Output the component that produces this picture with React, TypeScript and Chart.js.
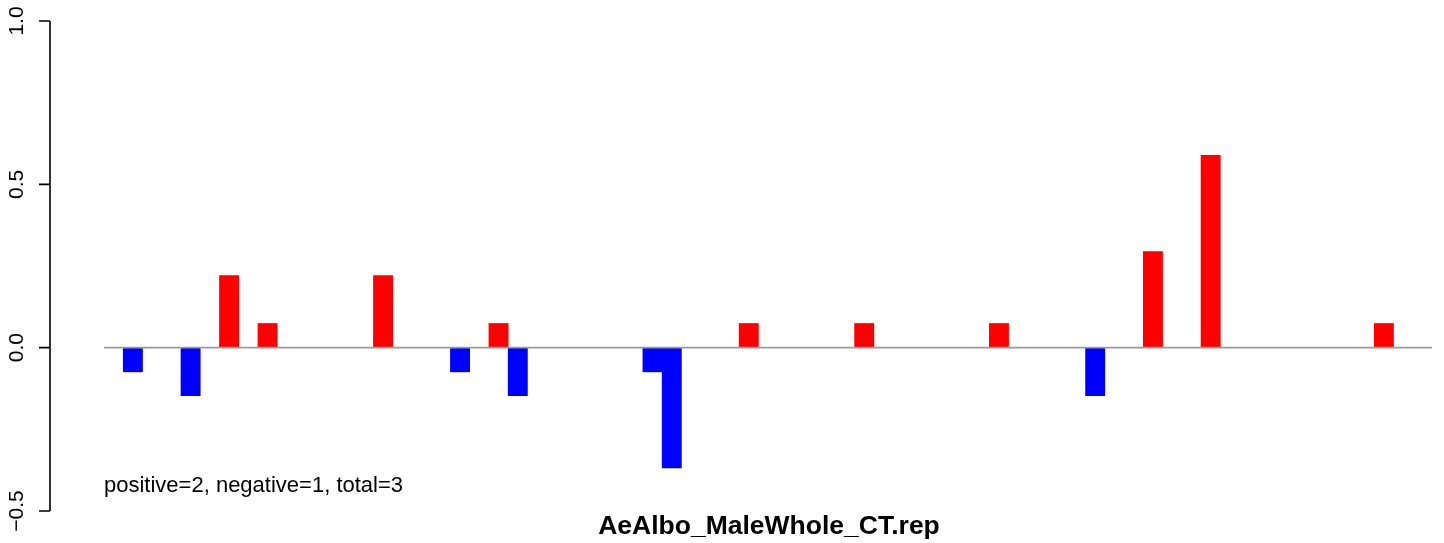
import React, { useEffect, useRef } from "react";
import { Chart, registerables } from "chart.js";

Chart.register(...registerables);

// ---- data ----
const SLOT_COUNT = 69;
const barSlots = [1, 4, 6, 8, 14, 18, 20, 21, 28, 29, 33, 39, 46, 51, 54, 57, 66];
const barValues = [
  -0.074, -0.147, 0.221, 0.074, 0.221, -0.074, 0.074, -0.147, -0.074, -0.368,
  0.074, 0.074, 0.074, -0.147, 0.294, 0.589, 0.074,
];
const yTicks = [-0.5, 0, 0.5, 1.0];
const yTickLabels = ["\u22120.5", "0.0", "0.5", "1.0"];
const titleText = "AeAlbo_MaleWhole_CT.rep";
const noteText = "positive=2, negative=1, total=3";

const FONT = "'Liberation Sans', Arial, Helvetica, sans-serif";

export default function App() {
  const ref = useRef<HTMLCanvasElement | null>(null);

  useEffect(() => {
    if (!ref.current) return;
    const labels = Array.from({ length: SLOT_COUNT }, (_, i) => String(i + 1));
    const data: (number | null)[] = new Array(SLOT_COUNT).fill(null);
    barSlots.forEach((s, i) => {
      data[s] = barValues[i];
    });

    const overlay = {
      id: "rbase",
      afterDatasetsDraw(chart: any) {
        const { ctx, chartArea } = chart;
        const y = chart.scales.y;
        ctx.save();
        // zero line
        const y0 = y.getPixelForValue(0);
        ctx.strokeStyle = "#9a9a9a";
        ctx.lineWidth = 1.6;
        ctx.beginPath();
        ctx.moveTo(chartArea.left, y0);
        ctx.lineTo(chartArea.right, y0);
        ctx.stroke();

        // y axis
        const ax = 50;
        const top = y.getPixelForValue(yTicks[yTicks.length - 1]);
        const bot = y.getPixelForValue(yTicks[0]);
        ctx.strokeStyle = "#000";
        ctx.lineWidth = 1.6;
        ctx.beginPath();
        ctx.moveTo(ax, top);
        ctx.lineTo(ax, bot);
        yTicks.forEach((t) => {
          const py = y.getPixelForValue(t);
          ctx.moveTo(ax, py);
          ctx.lineTo(ax - 11, py);
        });
        ctx.stroke();

        ctx.fillStyle = "#000";
        ctx.font = `21px ${FONT}`;
        ctx.textAlign = "center";
        ctx.textBaseline = "alphabetic";
        yTicks.forEach((t, i) => {
          const py = y.getPixelForValue(t);
          ctx.save();
          ctx.translate(23, py);
          ctx.rotate(-Math.PI / 2);
          ctx.fillText(yTickLabels[i], 0, 0);
          ctx.restore();
        });

        // note
        ctx.textAlign = "left";
        ctx.font = `22px ${FONT}`;
        ctx.fillText(noteText, chartArea.left, 492);

        // title
        ctx.textAlign = "center";
        ctx.font = `bold 26.5px ${FONT}`;
        ctx.fillText(titleText, (chartArea.left + chartArea.right) / 2 + 1, 534);
        ctx.restore();
      },
    };

    const chart = new Chart(ref.current, {
      type: "bar",
      data: {
        labels,
        datasets: [
          {
            data,
            backgroundColor: (c: any) => {
              const v = c.raw;
              return v != null && v > 0 ? "#ff0000" : "#0000ff";
            },
            borderWidth: 0,
            barPercentage: 1,
            categoryPercentage: 1,
          },
        ],
      },
      options: {
        responsive: false,
        animation: false,
        devicePixelRatio: 1,
        layout: { padding: { left: 104, right: 12, top: 21, bottom: 32 } },
        scales: {
          x: { type: "category", display: false, offset: true, grid: { display: false } },
          y: { display: false, min: -0.5, max: 1.0 },
        },
        plugins: {
          legend: { display: false },
          tooltip: { enabled: false },
          title: { display: false },
        },
      },
      plugins: [overlay],
    });
    return () => chart.destroy();
  }, []);

  return (
    <div style={{ position: "fixed", left: 0, top: 0, width: 1444, height: 543, background: "#fff" }}>
      <canvas ref={ref} width={1444} height={543} style={{ display: "block" }} />
    </div>
  );
}
